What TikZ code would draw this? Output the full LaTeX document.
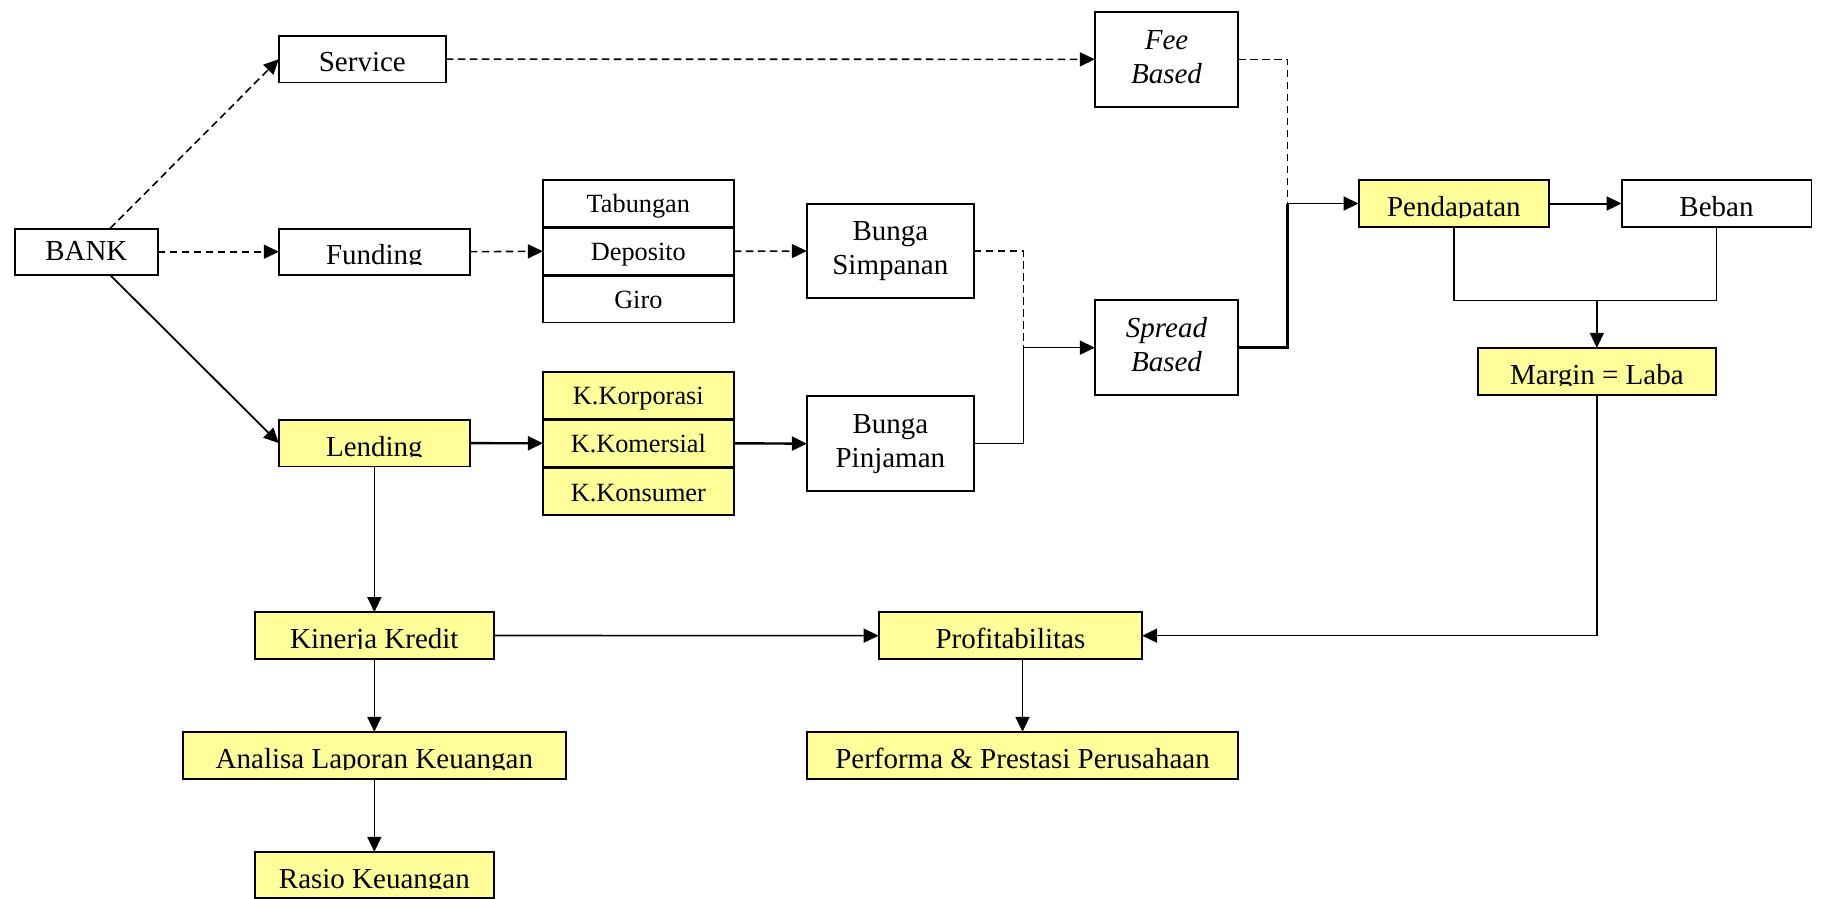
\documentclass[tikz,border=0pt]{standalone}
\usepackage{fontspec}
\setmainfont{Liberation Serif}
\usetikzlibrary{arrows.meta}
\definecolor{boxyellow}{HTML}{FFFF99}
\newcommand\bigfont{\fontsize{29}{34}\selectfont}
\newcommand\smallfont{\fontsize{26.3}{30}\selectfont}
\tikzset{
  box/.style={draw, line width=1.9pt, rectangle, inner sep=0pt, outer sep=0pt},
  yfill/.style={fill=boxyellow},
  ctext/.style 2 args={path picture={
      \clip ([yshift=#2-0.6pt]path picture bounding box.south west) rectangle (path picture bounding box.north east);
      \node[anchor=base, inner sep=0pt, font=\bigfont] at ([yshift=#2]path picture bounding box.south) {#1};}},
  rowbox/.style={box, minimum width=191pt, minimum height=46.3pt, text height=32.5pt, text depth=13.5pt, font=\smallfont},
  twobox/.style={box, align=center, font=\bigfont},
  thinline/.style={line width=1.6pt},
  thickline/.style={line width=2.4pt},
  dashline/.style={line width=1.6pt, dash pattern=on 7.5pt off 4.5pt},
  >={Triangle[length=15pt,width=14pt]},
}
\newcommand\twolines[2]{\rule{0pt}{22pt}#1\\#2\rule[-8.6pt]{0pt}{8.6pt}}
\begin{document}
\begin{tikzpicture}[x=1pt, y=-1pt]
\useasboundingbox (0,0) rectangle (1825,899);

% single-line boxes
\node[box, minimum width=143pt, minimum height=46.3pt, ctext={BANK}{14pt}] (bank) at (86.35,251.7) {};
\node[box, minimum width=167pt, minimum height=46.6pt, ctext={Service}{10.8pt}] (service) at (362.35,59.15) {};
\node[box, minimum width=191pt, minimum height=46.3pt, ctext={Funding}{10.5pt}] (funding) at (374.35,251.7) {};
\node[box, yfill, minimum width=191pt, minimum height=46.6pt, ctext={Lending}{10.2pt}] (lending) at (374.35,443.15) {};
\node[box, yfill, minimum width=190.6pt, minimum height=46.7pt, ctext={Pendapatan}{10.3pt}] (pend) at (1453.85,203.5) {};
\node[box, minimum width=189.9pt, minimum height=46.7pt, ctext={Beban}{10.3pt}] (beban) at (1716.5,203.5) {};
\node[box, yfill, minimum width=238pt, minimum height=47pt, ctext={Margin = Laba}{10pt}] (margin) at (1596.85,371.35) {};
\node[box, yfill, minimum width=239pt, minimum height=46.7pt, ctext={Kinerja Kredit}{10.5pt}] (kinerja) at (374.35,635.5) {};
\node[box, yfill, minimum width=263.5pt, minimum height=47pt, ctext={Profitabilitas}{10.3pt}] (profit) at (1010.4,635.65) {};
\node[box, yfill, minimum width=383pt, minimum height=47.3pt, ctext={Analisa Laporan Keuangan}{10.5pt}] (analisa) at (374.35,755.5) {};
\node[box, yfill, minimum width=431.3pt, minimum height=47pt, ctext={Performa \& Prestasi Perusahaan}{10.3pt}] (performa) at (1022.5,755.35) {};
\node[box, yfill, minimum width=239pt, minimum height=46.3pt, ctext={Rasio Keuangan}{10pt}] (rasio) at (374.35,875) {};

% stacked rows
\node[rowbox] (tab) at (638.35,203.3) {Tabungan};
\node[rowbox] (dep) at (638.35,251.3) {Deposito};
\node[rowbox] (giro) at (638.35,299.3) {Giro};
\node[rowbox, yfill] (korp) at (638.35,395.3) {K.Korporasi};
\node[rowbox, yfill] (kom) at (638.35,443.3) {K.Komersial};
\node[rowbox, yfill] (kons) at (638.35,491.5) {K.Konsumer};

% two-line boxes
\node[twobox, font=\bigfont\itshape, minimum width=143.3pt, minimum height=95pt] (fee) at (1166.5,59.35) {\twolines{Fee}{Based}};
\node[twobox, minimum width=167pt, minimum height=94.3pt] (bsimp) at (890.35,251) {\twolines{Bunga}{Simpanan}};
\node[twobox, font=\bigfont\itshape, minimum width=143.3pt, minimum height=95pt] (spread) at (1166.5,347.65) {\twolines{Spread}{Based}};
\node[twobox, minimum width=167pt, minimum height=95pt] (bpinj) at (890.35,443.65) {\twolines{Bunga}{Pinjaman}};

% junction points
\coordinate (jr) at ([xshift=-71pt]pend.west);
\coordinate (jl) at ([xshift=-71.3pt]spread.west);
\coordinate (jm) at ([yshift=47.3pt]margin.north);

% connectors
\draw[dashline, ->] ([xshift=23.65pt]bank.north) -- (service.west);
\draw[dashline, ->] (bank.east) -- (funding.west);
\draw[line width=1.8pt, ->] ([xshift=23.65pt]bank.south) -- (lending.west);
\draw[dashline, ->] (service.east) -- (fee.west);
\draw[dashline, ->] (funding.east) -- (dep.west);
\draw[dashline, ->] (dep.east) -- (bsimp.west);
\draw[thickline, ->] (lending.east) -- (kom.west);
\draw[thickline, ->] (kom.east) -- (bpinj.west);

\draw[dashline] (fee.east) -| (jr);
\draw[dashline] (bsimp.east) -| (jl);
\draw[thinline] (bpinj.east) -| (jl);
\draw[thinline, ->] (jl) -- (spread.west);
\draw[thickline] (spread.east) -| (jr);
\draw[thinline, ->] (jr) -- (pend.west);
\draw[line width=2pt, ->] (pend.east) -- (beban.west);

\draw[thinline] (pend.south) |- (jm) -| (beban.south);
\draw[thinline, ->] (jm) -- (margin.north);
\draw[thinline, ->] (margin.south) |- (profit.east);

\draw[thinline, ->] (lending.south) -- (kinerja.north);
\draw[thinline, ->] (kinerja.east) -- (profit.west);
\draw[thinline, ->] (kinerja.south) -- (analisa.north);
\draw[thinline, ->] (analisa.south) -- (rasio.north);
\draw[thinline, ->] (performa.north |- profit.south) -- (performa.north);
\end{tikzpicture}
\end{document}
